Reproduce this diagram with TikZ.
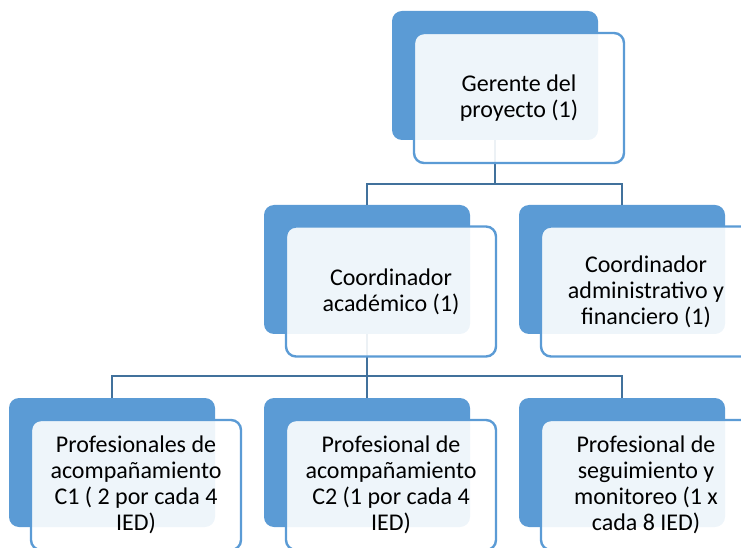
\documentclass[tikz,border=0pt]{standalone}
\usepackage{fontspec}
\setmainfont{Carlito}
\usetikzlibrary{positioning}
\definecolor{azul}{HTML}{5B9BD5}
\definecolor{azulosc}{HTML}{41719C}
\tikzset{
	fondo/.style={fill=azul, rounded corners=7.5pt, minimum width=154.5pt, minimum height=96.75pt, inner sep=0pt},
	caja/.style={draw=azul, line width=1.8pt, fill=white, fill opacity=0.9, text opacity=1, rounded corners=7.5pt,
		minimum width=157.5pt, minimum height=97.5pt, inner sep=0pt, align=center,
		font=\fontsize{18}{19.5}\selectfont},
	conector/.style={draw=azulosc, line width=2.1pt}
}
\begin{document}
\begin{tikzpicture}[x=0.75pt, y=-0.75pt]
		\useasboundingbox (0,0) rectangle (741,548);
		\clip (0,0) rectangle (741,548);
		% fondos azules
		\node[fondo] (gerenteF) at (495,75.5) {};
		\node[fondo] (acadF) at (367,269.5) {};
		\node[fondo] (adminF) at (622,269.5) {};
		\node[fondo] (c1F) at (112,462.5) {};
		\node[fondo] (c2F) at (367,462.5) {};
		\node[fondo] (segF) at (622,462.5) {};
		% conectores
		\coordinate (bif1) at (495,184);
		\coordinate (bif2) at (367,376);
		\draw[conector] (gerenteF.south) -- (bif1) -| (acadF.north);
		\draw[conector] (bif1) -| (adminF.north);
		\draw[conector] (acadF.south) -- (bif2) -- (c2F.north);
		\draw[conector] (bif2) -| (c1F.north);
		\draw[conector] (bif2) -| (segF.north);
		% cajas con texto
		\node[caja] (gerente) at (519,98) {Gerente del\\proyecto (1)};
		\node[caja] (acad) at (391,291.5) {Coordinador\\académico (1)};
		\node[caja] (admin) at (646,291.5) {Coordinador\\administrativo y\\financiero (1)};
		\node[caja] (c1) at (136,485) {Profesionales de\\acompañamiento\\C1 ( 2 por cada 4\\IED)};
		\node[caja] (c2) at (391,485) {Profesional de\\acompañamiento\\C2 (1 por cada 4\\IED)};
		\node[caja] (seg) at (646,485) {Profesional de\\seguimiento y\\monitoreo (1 x\\cada 8 IED)};
	\end{tikzpicture}
\end{document}
